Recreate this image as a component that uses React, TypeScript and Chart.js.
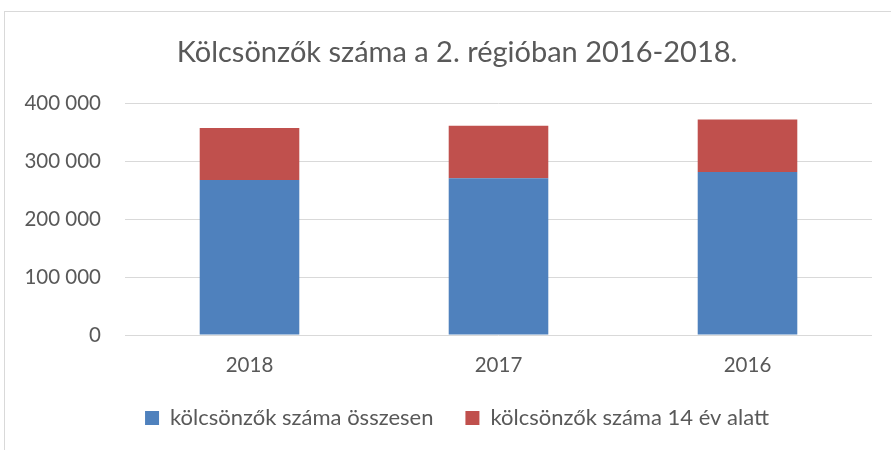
import React, { useEffect, useRef } from "react";
import { Chart, registerables } from "chart.js";

Chart.register(...registerables);

const categories = ["2018", "2017", "2016"];
const seriesTotalName = "kölcsönzők száma összesen";
const seriesUnder14Name = "kölcsönzők száma 14 év alatt";
const totalValues = [268000, 271000, 282000];
const under14Values = [90000, 91000, 91000];
const yTicks = [0, 100000, 200000, 300000, 400000];
const titleText = "Kölcsönzők száma a 2. régióban 2016-2018.";

const FONT = "Lato, 'Open Sans', sans-serif";
const TEXT = "#595959";
const TICK = 20.5;
const LEGEND = 22;

const fmt = (v: number) => String(v).replace(/\B(?=(\d{3})+(?!\d))/g, " ");

export default function App() {
  const ref = useRef<HTMLCanvasElement | null>(null);
  useEffect(() => {
    document.body.style.margin = "0";
    const ctx = ref.current!.getContext("2d")!;
    const chart = new Chart(ctx, {
      type: "bar",
      data: {
        labels: categories,
        datasets: [
          {
            label: seriesTotalName,
            data: totalValues,
            backgroundColor: "#4F81BD",
            barPercentage: 0.4,
            categoryPercentage: 1,
          },
          {
            label: seriesUnder14Name,
            data: under14Values,
            backgroundColor: "#C0504D",
            barPercentage: 0.4,
            categoryPercentage: 1,
          },
        ],
      },
      options: {
        animation: false,
        responsive: false,
        layout: { padding: { left: 0, right: 0, top: 11, bottom: 11 } },
        plugins: {
          title: {
            display: true,
            text: titleText,
            color: TEXT,
            font: { family: FONT, size: 29, weight: "normal" },
            padding: { top: 24, bottom: 34 },
          },
          legend: {
            position: "bottom",
            labels: {
              color: TEXT,
              font: { family: FONT, size: LEGEND },
              boxWidth: 14,
              boxHeight: 14,
              padding: 32,
            },
          },
          tooltip: { enabled: false },
        },
        scales: {
          x: {
            stacked: true,
            grid: { display: false },
            border: { display: false },
            ticks: { color: TEXT, font: { family: FONT, size: TICK }, padding: 10.5 },
            afterFit: (s: any) => {
              s.height = 40;
            },
          },
          y: {
            stacked: true,
            min: 0,
            max: 400000,
            afterBuildTicks: (s: any) => {
              s.ticks = yTicks.map((v) => ({ value: v }));
            },
            grid: { color: "#D9D9D9", lineWidth: 1, drawTicks: false },
            border: { display: false },
            ticks: {
              color: TEXT,
              font: { family: FONT, size: TICK },
              padding: 24,
              callback: (v: any) => fmt(Number(v)),
            },
            afterFit: (s: any) => {
              s.width = 125;
            },
          },
          yRight: {
            position: "right",
            display: true,
            grid: { display: false },
            border: { display: false },
            ticks: { display: false },
            afterFit: (s: any) => {
              s.width = 42;
            },
          },
        },
      },
    });
    return () => chart.destroy();
  }, []);
  return (
    <div style={{ position: "fixed", left: 0, top: 0, width: 891, height: 450, overflow: "hidden", background: "#fff" }}>
      <canvas ref={ref} width={914} height={450} style={{ display: "block" }} />
      <div
        style={{
          position: "absolute",
          left: 4,
          top: 11,
          width: 940,
          height: 500,
          border: "1px solid #D9D9D9",
          pointerEvents: "none",
        }}
      />
    </div>
  );
}
